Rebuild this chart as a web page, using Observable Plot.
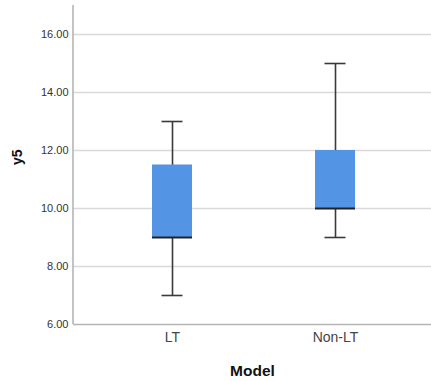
<!DOCTYPE html>
<html>
<head>
<meta charset="utf-8">
<script src="https://cdn.jsdelivr.net/npm/d3@7"></script>
<script src="https://cdn.jsdelivr.net/npm/@observablehq/plot@0.6"></script>
<style>
  html, body { margin: 0; padding: 0; background: #fff; overflow: hidden; }
  svg { display: block; }
</style>
</head>
<body>
<div id="chart"></div>
<script>
const models = ["LT", "Non-LT"];
const whiskerLow = [7, 9];
const q1 = [9, 10];
const median = [9, 10];
const q3 = [11.5, 12];
const whiskerHigh = [13, 15];
const yTicks = [6, 8, 10, 12, 14, 16];

const data = models.map((m, i) => ({
  model: m, lo: whiskerLow[i], q1: q1[i], med: median[i], q3: q3[i], hi: whiskerHigh[i]
}));

// left axis line drawn from the frame dimensions
function leftAxisLine(index, scales, values, dim) {
  const g = d3.create("svg:line")
    .attr("x1", dim.marginLeft).attr("x2", dim.marginLeft)
    .attr("y1", dim.marginTop).attr("y2", dim.height - dim.marginBottom)
    .attr("stroke", "#b5b5b5").attr("stroke-width", 1.6);
  return g.node();
}

const chart = Plot.plot({
  width: 431,
  height: 381,
  marginLeft: 73,
  marginRight: 0,
  marginTop: 5,
  marginBottom: 57,
  style: { fontFamily: "Liberation Sans, Arial, sans-serif", background: "#fff" },
  x: { domain: models, paddingInner: 0.755, paddingOuter: 0.474, align: 0.51, axis: null },
  y: { domain: [6, 17], axis: null },
  marks: [
    Plot.ruleY(yTicks.filter(d => d > 6), { stroke: "#d9d9d9", strokeWidth: 1.5 }),
    Plot.ruleX(data, { x: "model", y1: "lo", y2: "hi", stroke: "#3a3a3a", strokeWidth: 1.6 }),
    Plot.barY(data, { x: "model", y1: "q1", y2: "q3", fill: "#5494e4" }),
    Plot.tickY(data, { x: "model", y: "med", stroke: "#222", strokeWidth: 2 }),
    Plot.tickY(data, { x: "model", y: "lo", stroke: "#3a3a3a", strokeWidth: 1.6, insetLeft: 9.5, insetRight: 9.5 }),
    Plot.tickY(data, { x: "model", y: "hi", stroke: "#3a3a3a", strokeWidth: 1.6, insetLeft: 9.5, insetRight: 9.5 }),
    Plot.ruleY([6], { stroke: "#b5b5b5", strokeWidth: 1.6 }),
    leftAxisLine,
    Plot.axisY(yTicks, { tickSize: 0, tickPadding: 5, tickFormat: d3.format(".2f"), fontSize: 11, fill: "#333", label: null }),
    Plot.axisX(models, { tickSize: 0, tickPadding: 8, fontSize: 14, fill: "#444", label: null }),
    Plot.text(["Model"], { frameAnchor: "bottom", dy: 51, fontSize: 15.5, fontWeight: "bold", fill: "#111" }),
    Plot.text(["y5"], { frameAnchor: "left", dx: -56, rotate: -90, fontSize: 14, fontWeight: "bold", fill: "#111" })
  ]
});
document.getElementById("chart").appendChild(chart);
</script>
</body>
</html>
